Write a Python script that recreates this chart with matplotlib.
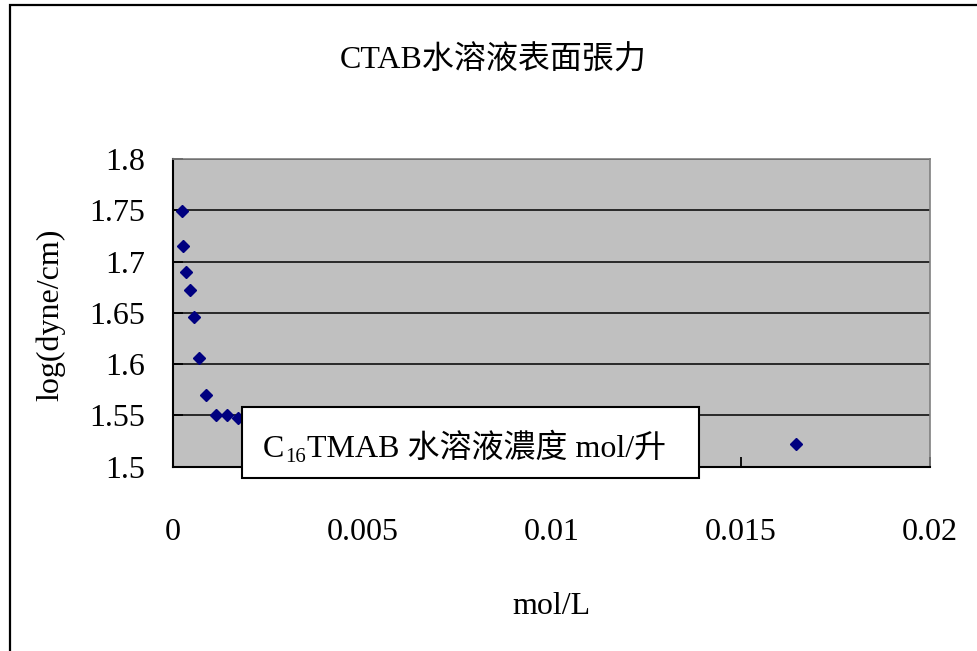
import matplotlib
matplotlib.use("Agg")
import matplotlib.pyplot as plt
from matplotlib.patches import Rectangle

# Data
conc = [0.00024, 0.00026, 0.00034, 0.00045, 0.00055, 0.00070, 0.00088,
        0.00114, 0.00142, 0.00172, 0.01645]
log_tension = [1.749, 1.715, 1.690, 1.672, 1.6455, 1.6055, 1.570,
               1.5507, 1.5507, 1.547, 1.522]
xticks = [0, 0.005, 0.01, 0.015, 0.02]
xtick_labels = ["0", "0.005", "0.01", "0.015", "0.02"]
yticks = [1.5, 1.55, 1.6, 1.65, 1.7, 1.75, 1.8]
ytick_labels = ["1.5", "1.55", "1.6", "1.65", "1.7", "1.75", "1.8"]

title = "CTAB水溶液表面張力"
xlabel = "mol/L"
ylabel = "log(dyne/cm)"
box_parts = ["C", "16", "TMAB 水溶液濃度 mol/升"]

FAM = ["Liberation Serif", "Noto Sans CJK TC", "DejaVu Sans"]
plt.rcParams["font.family"] = FAM

W, H = 977, 651
fig = plt.figure(figsize=(W / 100, H / 100), dpi=100)
fig.patch.set_facecolor("white")

def fx(px):
    return px / W

def fy(py):
    return 1 - py / H

# Figure border (top & left visible)
fig.add_artist(Rectangle((fx(10), -0.05), 1.2, fy(5) + 0.05,
                         transform=fig.transFigure, fill=False,
                         edgecolor="black", linewidth=1.6, zorder=0))

ax = fig.add_axes([fx(173), fy(466.7), fx(930) - fx(173), fy(159) - fy(466.7)])
ax.set_facecolor("#C0C0C0")
ax.set_xlim(0, 0.02)
ax.set_ylim(1.5, 1.8)
ax.set_xticks(xticks)
ax.set_xticklabels(xtick_labels)
ax.set_yticks(yticks)
ax.set_yticklabels(ytick_labels)
ax.tick_params(axis="x", direction="in", length=7, width=1.3, pad=37,
               labelsize=23, colors="black")
ax.tick_params(axis="y", direction="in", length=7, width=1.3, pad=20,
               labelsize=23, colors="black")
for lab in ax.get_xticklabels() + ax.get_yticklabels():
    lab.set_family(FAM)

ax.yaxis.grid(True, color="black", linewidth=1.1)
ax.set_axisbelow(True)
for side in ("left", "bottom"):
    ax.spines[side].set_color("black")
    ax.spines[side].set_linewidth(1.5)
for side in ("top", "right"):
    ax.spines[side].set_color("#808080")
    ax.spines[side].set_linewidth(1.2)

ax.plot(conc, log_tension, linestyle="none", marker="D", markersize=6.5,
        color="#000080", zorder=3)

# Title and axis labels
fig.text(fx(493), fy(61), title, ha="center", va="center", fontsize=23,
         family=FAM)
fig.text(fx(551), fy(607), xlabel, ha="center", va="center", fontsize=23,
         family=FAM)
fig.text(fx(51), fy(315), ylabel, ha="center", va="center", fontsize=23,
         rotation=90, family=FAM)

# Text box overlay
fig.add_artist(Rectangle((fx(242), fy(478)), fx(699) - fx(242), fy(407) - fy(478),
                         transform=fig.transFigure, facecolor="white",
                         edgecolor="black", linewidth=1.5, zorder=5))
renderer = fig.canvas.get_renderer()
x0 = 263
base = 457
t1 = fig.text(fx(x0), fy(base), box_parts[0], ha="left", va="baseline",
              fontsize=23, family=FAM, zorder=6)
x1 = t1.get_window_extent(renderer).x1 + 1
t2 = fig.text(x1 / W, fy(base + 5), box_parts[1], ha="left", va="baseline",
              fontsize=15, family=FAM, zorder=6)
x2 = t2.get_window_extent(renderer).x1 + 1
fig.text(x2 / W, fy(base), box_parts[2], ha="left", va="baseline",
         fontsize=23, family=FAM, zorder=6)

fig.savefig("out.png", dpi=100)
